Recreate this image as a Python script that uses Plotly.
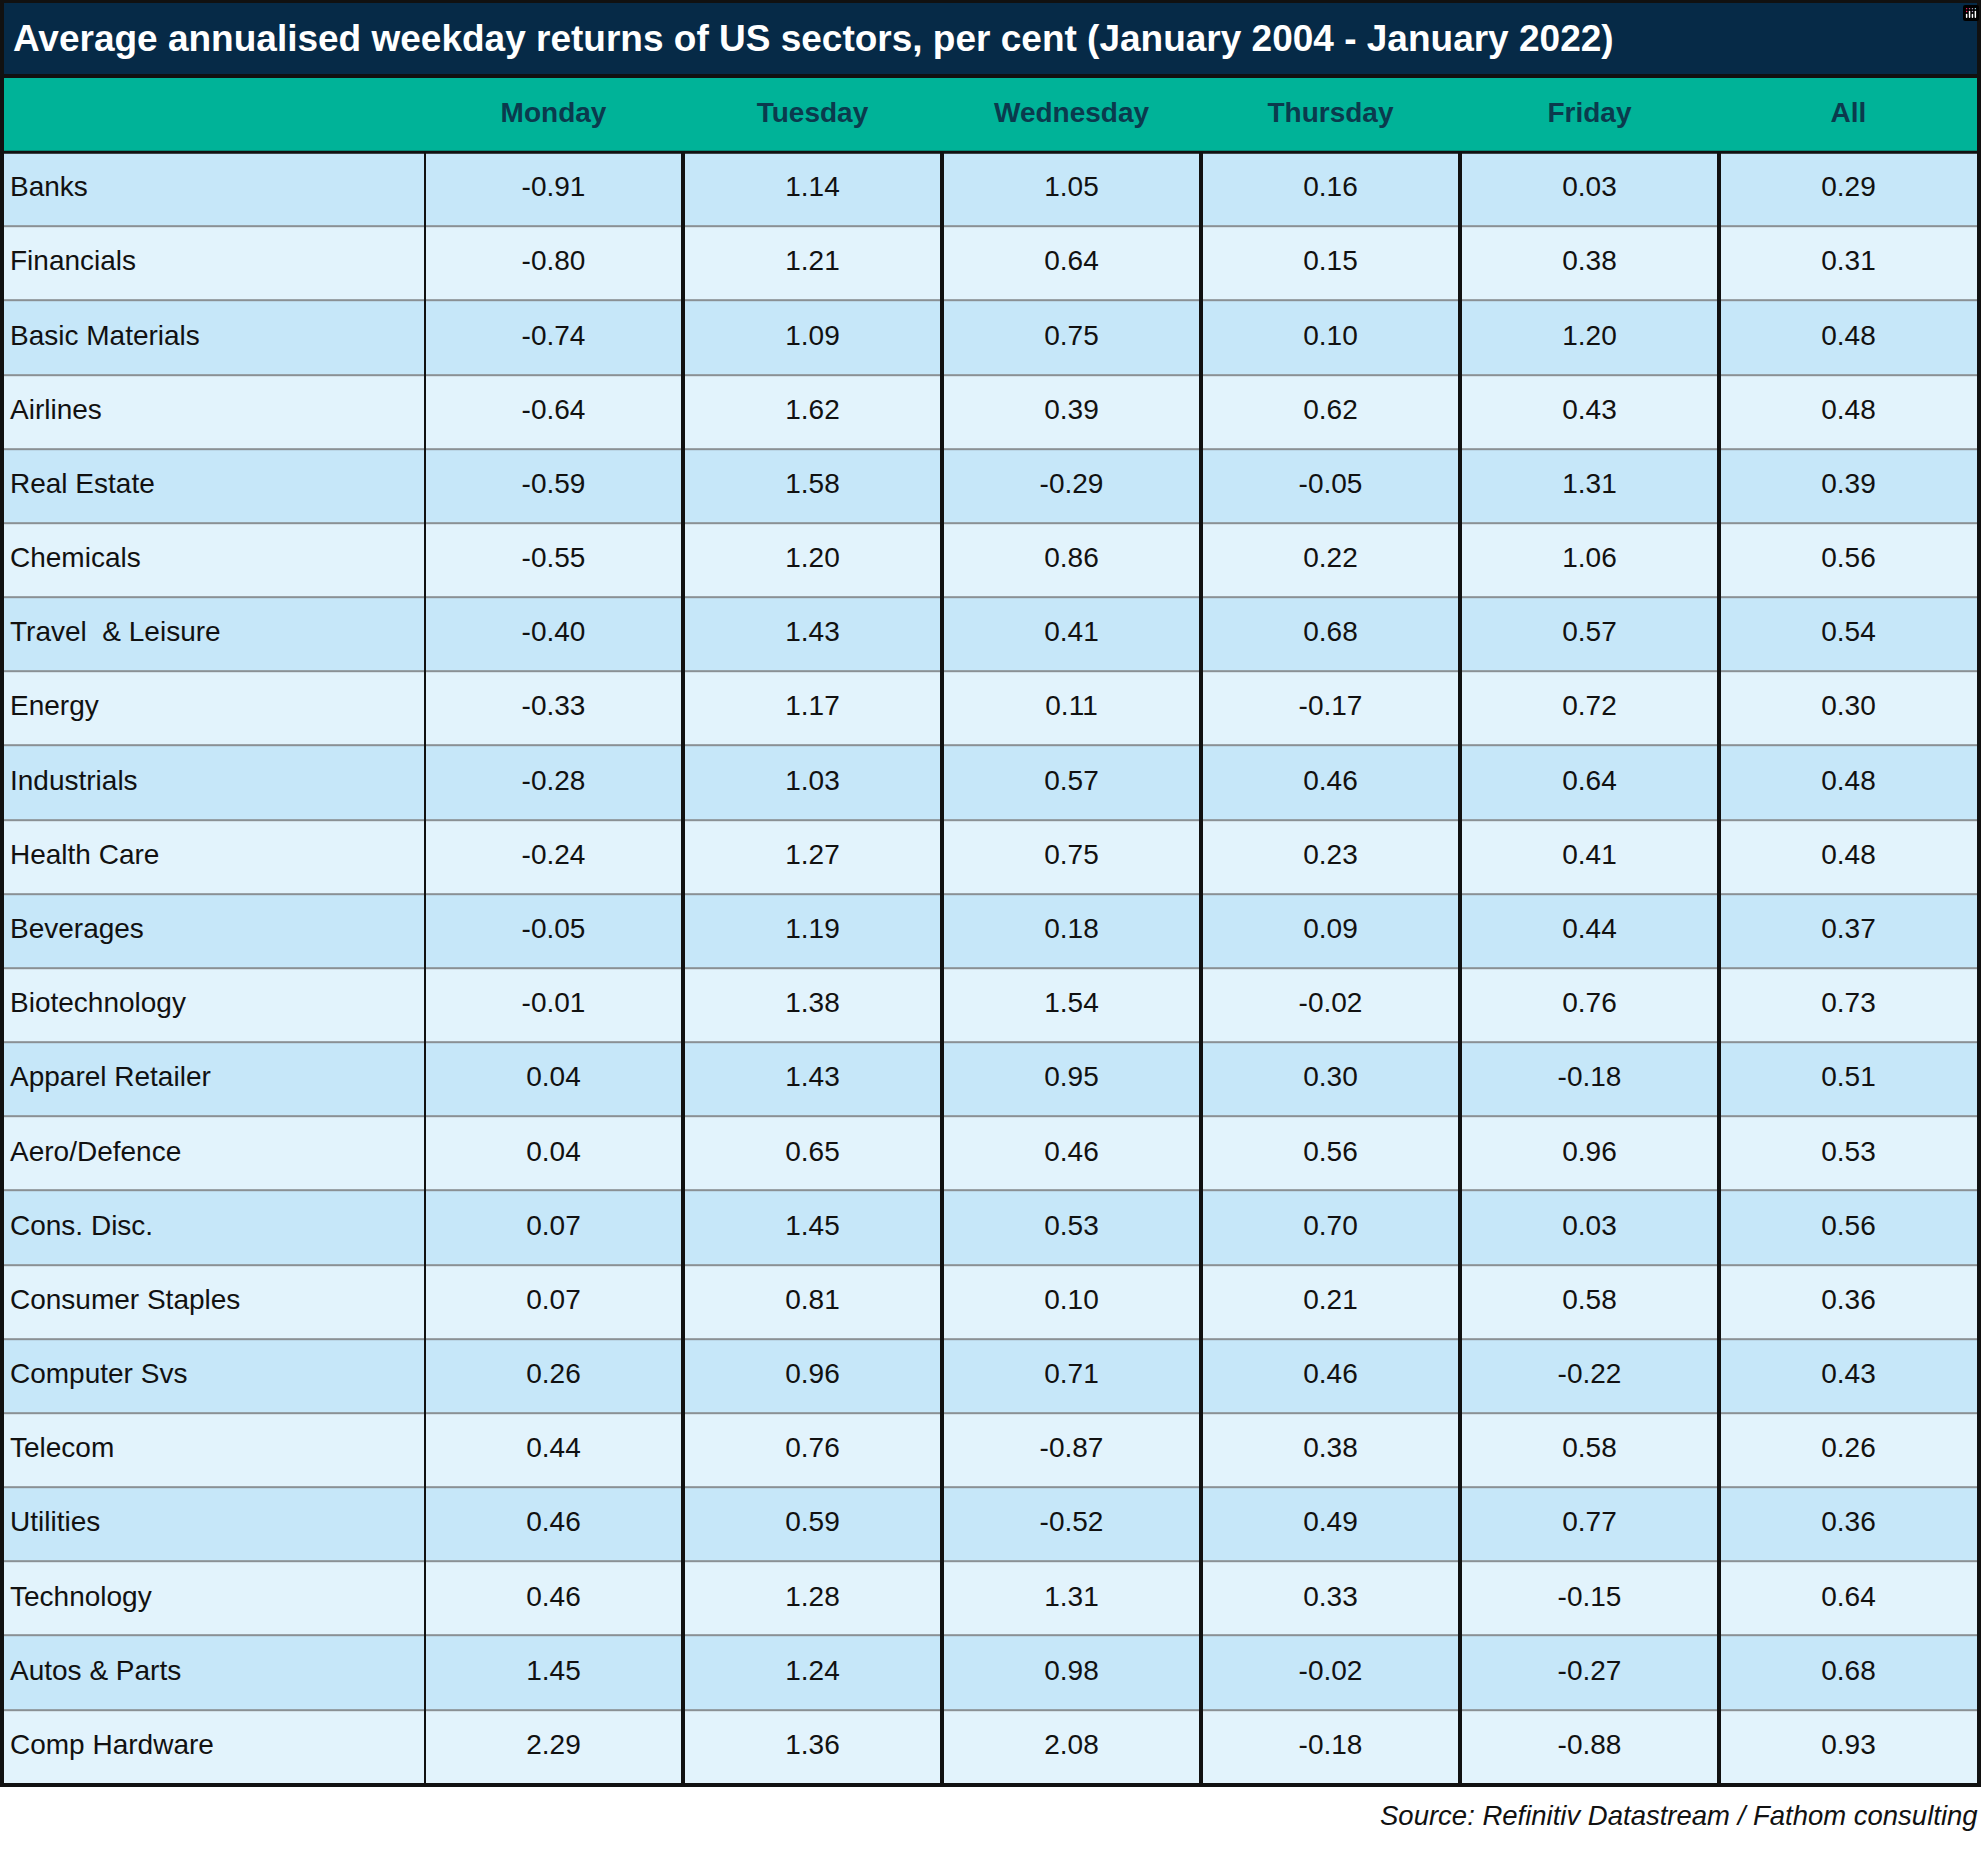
import plotly.graph_objects as go

# ---------------- data ----------------
title_text = "Average annualised weekday returns of US sectors, per cent (January 2004 - January 2022)"
source_text = "Source: Refinitiv Datastream / Fathom consulting"

days = ["Monday", "Tuesday", "Wednesday", "Thursday", "Friday", "All"]

sectors = ["Banks", "Financials", "Basic Materials", "Airlines", "Real Estate", "Chemicals",
           "Travel  & Leisure", "Energy", "Industrials", "Health Care", "Beverages",
           "Biotechnology", "Apparel Retailer", "Aero/Defence", "Cons. Disc.",
           "Consumer Staples", "Computer Svs", "Telecom", "Utilities", "Technology",
           "Autos & Parts", "Comp Hardware"]

monday = [-0.91, -0.80, -0.74, -0.64, -0.59, -0.55, -0.40, -0.33, -0.28, -0.24, -0.05,
          -0.01, 0.04, 0.04, 0.07, 0.07, 0.26, 0.44, 0.46, 0.46, 1.45, 2.29]
tuesday = [1.14, 1.21, 1.09, 1.62, 1.58, 1.20, 1.43, 1.17, 1.03, 1.27, 1.19,
           1.38, 1.43, 0.65, 1.45, 0.81, 0.96, 0.76, 0.59, 1.28, 1.24, 1.36]
wednesday = [1.05, 0.64, 0.75, 0.39, -0.29, 0.86, 0.41, 0.11, 0.57, 0.75, 0.18,
             1.54, 0.95, 0.46, 0.53, 0.10, 0.71, -0.87, -0.52, 1.31, 0.98, 2.08]
thursday = [0.16, 0.15, 0.10, 0.62, -0.05, 0.22, 0.68, -0.17, 0.46, 0.23, 0.09,
            -0.02, 0.30, 0.56, 0.70, 0.21, 0.46, 0.38, 0.49, 0.33, -0.02, -0.18]
friday = [0.03, 0.38, 1.20, 0.43, 1.31, 1.06, 0.57, 0.72, 0.64, 0.41, 0.44,
          0.76, -0.18, 0.96, 0.03, 0.58, -0.22, 0.58, 0.77, -0.15, -0.27, -0.88]
all_days = [0.29, 0.31, 0.48, 0.48, 0.39, 0.56, 0.54, 0.30, 0.48, 0.48, 0.37,
            0.73, 0.51, 0.53, 0.56, 0.36, 0.43, 0.26, 0.36, 0.64, 0.68, 0.93]

# ---------------- styling ----------------
W, H = 1985, 1849
FONT = "Liberation Sans, Arial, sans-serif"
NAVY = "#062a47"
GREEN = "#00b398"
HEAD_TXT = "#0b3a4d"
ROW_A = "#c6e7f9"
ROW_B = "#e2f3fc"
GRID = "#8a9094"
INK = "#111111"
TXT_SIZE = 28

TBL_LEFT, NAME_RIGHT, TBL_RIGHT = 3, 424, 1978
TITLE_TOP, TITLE_BOT = 2, 74
HEAD_TOP = 78
BODY_BOT = 1784
NAME_PAD = 7  # px between left border and sector name


def X(px):
    return px / W


def Y(px):
    return 1 - px / H


n = len(sectors)
m = len(days)
num_cols = [monday, tuesday, wednesday, thursday, friday, all_days]
day_pos = list(range(m))
row_pos = [i + 1 for i in range(n)]   # row 0 is the header
HDR_POS = 0

parity = [i % 2 for i in range(n)]
row_scale = [[0, ROW_A], [1, ROW_B]]
green_scale = [[0, GREEN], [1, GREEN]]
common = dict(zmin=0, zmax=1, showscale=False, xgap=0, hoverinfo="skip")

fig = go.Figure()

# ---- cell fills ----
fig.add_trace(go.Heatmap(x=[0], y=[HDR_POS], z=[[0]], colorscale=green_scale, ygap=0,
                         xaxis="x", yaxis="y", **common))
fig.add_trace(go.Heatmap(x=[0], y=row_pos, z=[[p] for p in parity], colorscale=row_scale,
                         ygap=2, xaxis="x", yaxis="y", **common))
fig.add_trace(go.Heatmap(x=day_pos, y=[HDR_POS], z=[[0] * m], colorscale=green_scale, ygap=0,
                         xaxis="x2", yaxis="y", **common))
fig.add_trace(go.Heatmap(x=day_pos, y=row_pos, z=[[p] * m for p in parity], colorscale=row_scale,
                         ygap=2, xaxis="x2", yaxis="y", **common))

# ---- texts ----
name_x = -0.5 + NAME_PAD / (NAME_RIGHT - TBL_LEFT)
fig.add_trace(go.Scatter(
    x=[name_x] * n, y=row_pos, text=sectors, mode="text", textposition="middle right",
    textfont=dict(family=FONT, size=TXT_SIZE, color=INK),
    xaxis="x", yaxis="y", hoverinfo="skip", showlegend=False, cliponaxis=False))

fig.add_trace(go.Scatter(
    x=day_pos, y=[HDR_POS] * m, text=["<b>%s</b>" % d for d in days], mode="text",
    textposition="middle center",
    textfont=dict(family=FONT, size=TXT_SIZE, color=HEAD_TXT),
    xaxis="x2", yaxis="y", hoverinfo="skip", showlegend=False, cliponaxis=False))

for j, col in enumerate(num_cols):
    fig.add_trace(go.Scatter(
        x=[day_pos[j]] * n, y=row_pos, text=["%.2f" % v for v in col], mode="text",
        textposition="middle center",
        textfont=dict(family=FONT, size=TXT_SIZE, color=INK),
        xaxis="x2", yaxis="y", hoverinfo="skip", showlegend=False, cliponaxis=False))

shapes = []
# title band
shapes.append(dict(type="rect", xref="paper", yref="paper",
                   x0=X(TBL_LEFT), x1=X(TBL_RIGHT), y0=Y(TITLE_BOT), y1=Y(TITLE_TOP),
                   fillcolor=NAVY, line=dict(width=0), layer="above"))
# title / header separator
shapes.append(dict(type="rect", xref="paper", yref="paper",
                   x0=X(TBL_LEFT), x1=X(TBL_RIGHT), y0=Y(HEAD_TOP), y1=Y(TITLE_BOT),
                   fillcolor=INK, line=dict(width=0), layer="above"))
# header / body separator
shapes.append(dict(type="line", xref="paper", yref="y",
                   x0=X(TBL_LEFT), x1=X(TBL_RIGHT), y0=HDR_POS + 0.5, y1=HDR_POS + 0.5,
                   line=dict(color=INK, width=3), layer="above"))
# vertical column lines in body
for b in [-0.5] + [p + 0.5 for p in day_pos[:-1]]:
    shapes.append(dict(type="line", xref="x2", yref="y",
                       x0=b, x1=b, y0=HDR_POS + 0.5, y1=n + 0.5,
                       line=dict(color=INK, width=4), layer="above"))
# outer border
shapes.append(dict(type="rect", xref="paper", yref="paper",
                   x0=X(TBL_LEFT - 1), x1=X(TBL_RIGHT + 1), y0=Y(BODY_BOT + 1), y1=Y(TITLE_TOP - 1),
                   fillcolor="rgba(0,0,0,0)", line=dict(color=INK, width=4), layer="above"))

annotations = [
    dict(text="<b>%s</b>" % title_text, xref="paper", yref="paper",
         x=X(11), y=Y(39), xanchor="left", yanchor="middle",
         showarrow=False, font=dict(family=FONT, size=37, color="white")),
    dict(text="<i>%s</i>" % source_text, xref="paper", yref="paper",
         x=X(TBL_RIGHT + 2), y=Y(1815), xanchor="right", yanchor="middle",
         showarrow=False, font=dict(family=FONT, size=27.5, color=INK)),
]

axis_off = dict(showticklabels=False, showgrid=False, zeroline=False, ticks="",
                fixedrange=True, showline=False)

fig.update_layout(
    width=W, height=H,
    margin=dict(l=0, r=0, t=0, b=0),
    paper_bgcolor="white",
    plot_bgcolor=GRID,
    showlegend=False,
    shapes=shapes,
    annotations=annotations,
    modebar=dict(bgcolor="rgba(0,0,0,0)", color="rgba(0,0,0,0)",
                 activecolor="rgba(0,0,0,0)"),
    xaxis=dict(domain=[X(TBL_LEFT), X(NAME_RIGHT)], range=[-0.5, 0.5], anchor="y", **axis_off),
    xaxis2=dict(domain=[X(NAME_RIGHT), X(TBL_RIGHT)], range=[-0.5, m - 0.5], anchor="y", **axis_off),
    yaxis=dict(domain=[Y(BODY_BOT), Y(HEAD_TOP)], anchor="x",
               range=[n + 0.5, -0.5], **axis_off),
)

fig.write_html("out.html", post_script="document.body.style.margin='0';")
